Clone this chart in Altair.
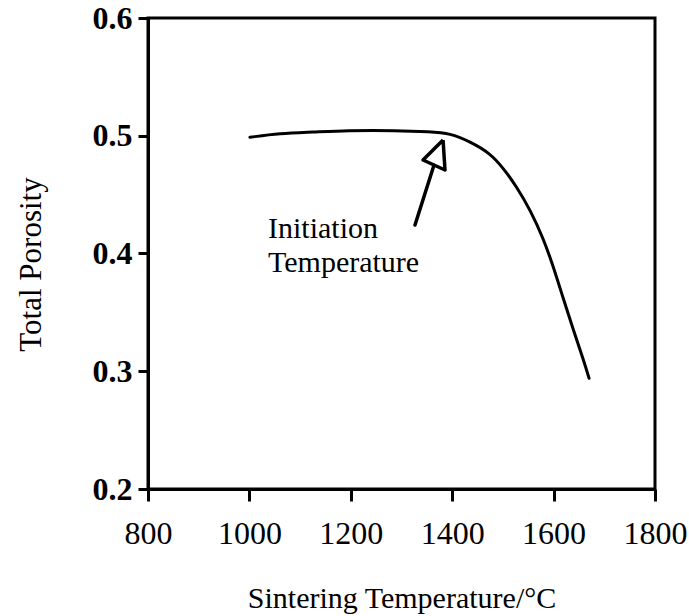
import altair as alt
import pandas as pd

# Curve: sintering temperature (°C) vs total porosity
curve_temp = [1001, 1060, 1125, 1192, 1290, 1356, 1396, 1435, 1475, 1501, 1527,
              1554, 1580, 1599, 1619, 1639, 1659, 1670]
curve_poro = [0.4987, 0.502, 0.503, 0.5045, 0.5045, 0.5034, 0.5021, 0.4950, 0.4851,
              0.4724, 0.4568, 0.4370, 0.4125, 0.3895, 0.3618, 0.3351, 0.3096, 0.2940]

# Arrow (shaft and open head) in data coordinates
shaft_temp = [1326.6, 1364.0]
shaft_poro = [0.4242, 0.4750]
head_temp = [1382.0, 1342.4, 1385.8, 1382.0]
head_poro = [0.4964, 0.4794, 0.4709, 0.4964]

# Annotation lines
note_lines = ["Initiation", "Temperature"]
note_temp = [1036.7, 1036.7]
note_poro = [0.413, 0.384]

x_ticks = [800, 1000, 1200, 1400, 1600, 1800]
y_ticks = [0.2, 0.3, 0.4, 0.5, 0.6]

FONT = "Liberation Serif"

curve_df = pd.DataFrame({"t": curve_temp, "p": curve_poro, "o": range(len(curve_temp))})
shaft_df = pd.DataFrame({"t": shaft_temp, "p": shaft_poro, "o": range(len(shaft_temp))})
head_df = pd.DataFrame({"t": head_temp, "p": head_poro, "o": range(len(head_temp))})
note_df = pd.DataFrame({"t": note_temp, "p": note_poro, "label": note_lines})

xscale = alt.Scale(domain=[800, 1800], nice=False, zero=False)
yscale = alt.Scale(domain=[0.2, 0.6], nice=False, zero=False)

xaxis = alt.Axis(
    values=x_ticks, format="d", title="Sintering Temperature/°C",
    grid=False, domainColor="black", domainWidth=3, tickColor="black", tickWidth=3,
    tickSize=12, labelFont=FONT, labelFontSize=32, labelColor="black", labelPadding=17,
    labelFlush=False, labelOverlap=False,
    titleFont=FONT, titleFontSize=30, titleFontWeight="normal", titleColor="black",
    titleX=253.5, titleY=118, titleBaseline="alphabetic", titleAlign="center",
)
yaxis = alt.Axis(
    values=y_ticks, format=".1f", title="Total Porosity",
    grid=False, domainColor="black", domainWidth=3, tickColor="black", tickWidth=3,
    tickSize=10, labelFont=FONT, labelFontSize=32, labelFontWeight="bold",
    labelColor="black", labelPadding=6, labelFlush=False, labelOverlap=False,
    titleFont=FONT, titleFontSize=31, titleFontWeight="normal", titleColor="black",
    titleX=-108, titleY=246, titleAngle=270, titleBaseline="alphabetic", titleAlign="center",
)

base_x = alt.X("t:Q", scale=xscale, axis=xaxis)
base_y = alt.Y("p:Q", scale=yscale, axis=yaxis)

curve = alt.Chart(curve_df).mark_line(
    color="black", strokeWidth=3, interpolate="basis", strokeCap="round"
).encode(x=base_x, y=base_y, order="o:Q")

shaft = alt.Chart(shaft_df).mark_line(
    color="black", strokeWidth=3.5, strokeCap="round"
).encode(x=alt.X("t:Q", scale=xscale), y=alt.Y("p:Q", scale=yscale), order="o:Q")

head = alt.Chart(head_df).mark_line(
    color="black", strokeWidth=3.5, strokeJoin="round"
).encode(x=alt.X("t:Q", scale=xscale), y=alt.Y("p:Q", scale=yscale), order="o:Q")

note = alt.Chart(note_df).mark_text(
    font=FONT, fontSize=30, align="left", baseline="alphabetic", color="black"
).encode(x=alt.X("t:Q", scale=xscale), y=alt.Y("p:Q", scale=yscale), text="label:N")

chart = alt.layer(curve, shaft, head, note).properties(
    width=507, height=471,
    autosize=alt.AutoSizeParams(type="none"),
    padding={"left": 148, "top": 18, "right": 34, "bottom": 127},
).configure(background="white", font=FONT).configure_view(
    stroke="black", strokeWidth=3
).configure_text(font=FONT).configure_axis(labelFont=FONT, titleFont=FONT)

chart.save("out.html", embed_options={"renderer": "svg", "actions": False})
